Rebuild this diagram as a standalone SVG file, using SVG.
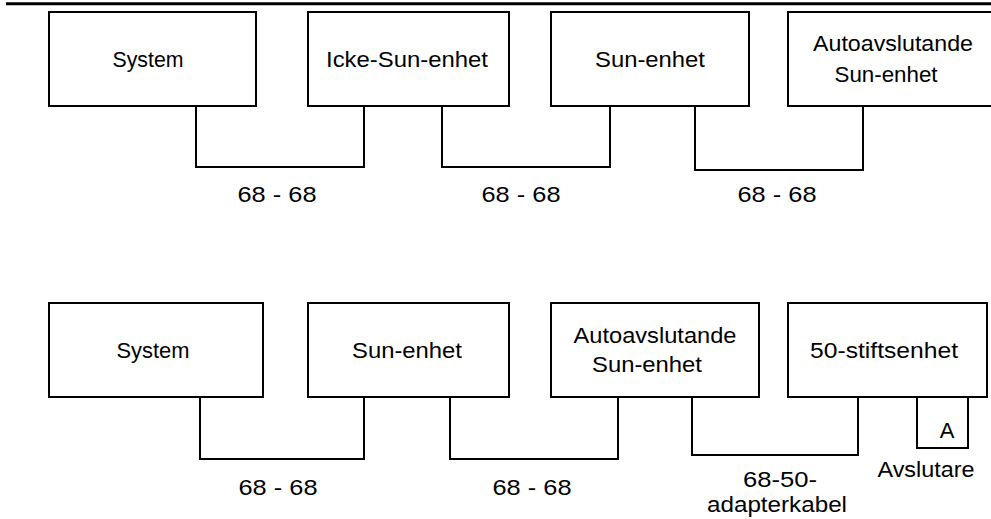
<svg xmlns="http://www.w3.org/2000/svg" width="991" height="519" viewBox="0 0 991 519">
<style>
.box{fill:#fff;stroke:#000;stroke-width:2}
.conn{fill:none;stroke:#000;stroke-width:2}
text{font-family:"Liberation Sans",Arial,sans-serif;font-size:22px;fill:#000;text-anchor:middle}
</style>
<rect width="991" height="519" fill="#fff"/>
<line x1="6" y1="3.7" x2="991" y2="3.7" stroke="#000" stroke-width="3"/>
<g id="connectors">
<polyline class="conn" points="196,106 196,167 364,167 364,106"/>
<polyline class="conn" points="442,106 442,167 610,167 610,106"/>
<polyline class="conn" points="695,106 695,170 863,170 863,106"/>
<polyline class="conn" points="200,397 200,459 364,459 364,397"/>
<polyline class="conn" points="450,397 450,459 618,459 618,397"/>
<polyline class="conn" points="692,394 692,455 858,455 858,394"/>
<text x="277" y="202" textLength="79" lengthAdjust="spacingAndGlyphs">68 - 68</text>
<text x="521" y="202" textLength="79" lengthAdjust="spacingAndGlyphs">68 - 68</text>
<text x="777" y="202" textLength="79" lengthAdjust="spacingAndGlyphs">68 - 68</text>
<text x="278" y="495" textLength="79" lengthAdjust="spacingAndGlyphs">68 - 68</text>
<text x="532" y="495" textLength="79" lengthAdjust="spacingAndGlyphs">68 - 68</text>
<text x="780" y="487" textLength="74" lengthAdjust="spacingAndGlyphs">68-50-</text>
<text x="777" y="512" textLength="140" lengthAdjust="spacingAndGlyphs">adapterkabel</text>
</g>
<g id="top-system">
<rect class="box" x="49" y="12" width="207" height="94"/>
<text x="148" y="67" textLength="71" lengthAdjust="spacingAndGlyphs">System</text>
</g>
<g id="top-icke-sun">
<rect class="box" x="308" y="12" width="201" height="94"/>
<text x="407" y="67" textLength="162" lengthAdjust="spacingAndGlyphs">Icke-Sun-enhet</text>
</g>
<g id="top-sun">
<rect class="box" x="551" y="12" width="198" height="94"/>
<text x="650" y="67" textLength="110" lengthAdjust="spacingAndGlyphs">Sun-enhet</text>
</g>
<g id="top-auto">
<rect class="box" x="788" y="12" width="205" height="94"/>
<text x="893" y="51" textLength="160" lengthAdjust="spacingAndGlyphs">Autoavslutande</text>
<text x="886" y="82" textLength="103" lengthAdjust="spacingAndGlyphs">Sun-enhet</text>
</g>
<g id="bottom-system">
<rect class="box" x="49" y="303" width="214" height="94"/>
<text x="153" y="358" textLength="73" lengthAdjust="spacingAndGlyphs">System</text>
</g>
<g id="bottom-sun">
<rect class="box" x="308" y="303" width="201" height="94"/>
<text x="407" y="358" textLength="110" lengthAdjust="spacingAndGlyphs">Sun-enhet</text>
</g>
<g id="bottom-auto">
<rect class="box" x="551" y="303" width="208" height="94"/>
<text x="655" y="343" textLength="163" lengthAdjust="spacingAndGlyphs">Autoavslutande</text>
<text x="647" y="372" textLength="110" lengthAdjust="spacingAndGlyphs">Sun-enhet</text>
</g>
<g id="bottom-50pin">
<rect class="box" x="788" y="303" width="199" height="94"/>
<text x="884" y="358" textLength="148" lengthAdjust="spacingAndGlyphs">50-stiftsenhet</text>
</g>
<g id="terminator">
<rect class="box" x="917" y="397" width="51" height="51"/>
<text x="947" y="438">A</text>
<text x="926" y="477" textLength="97" lengthAdjust="spacingAndGlyphs">Avslutare</text>
</g>
</svg>
